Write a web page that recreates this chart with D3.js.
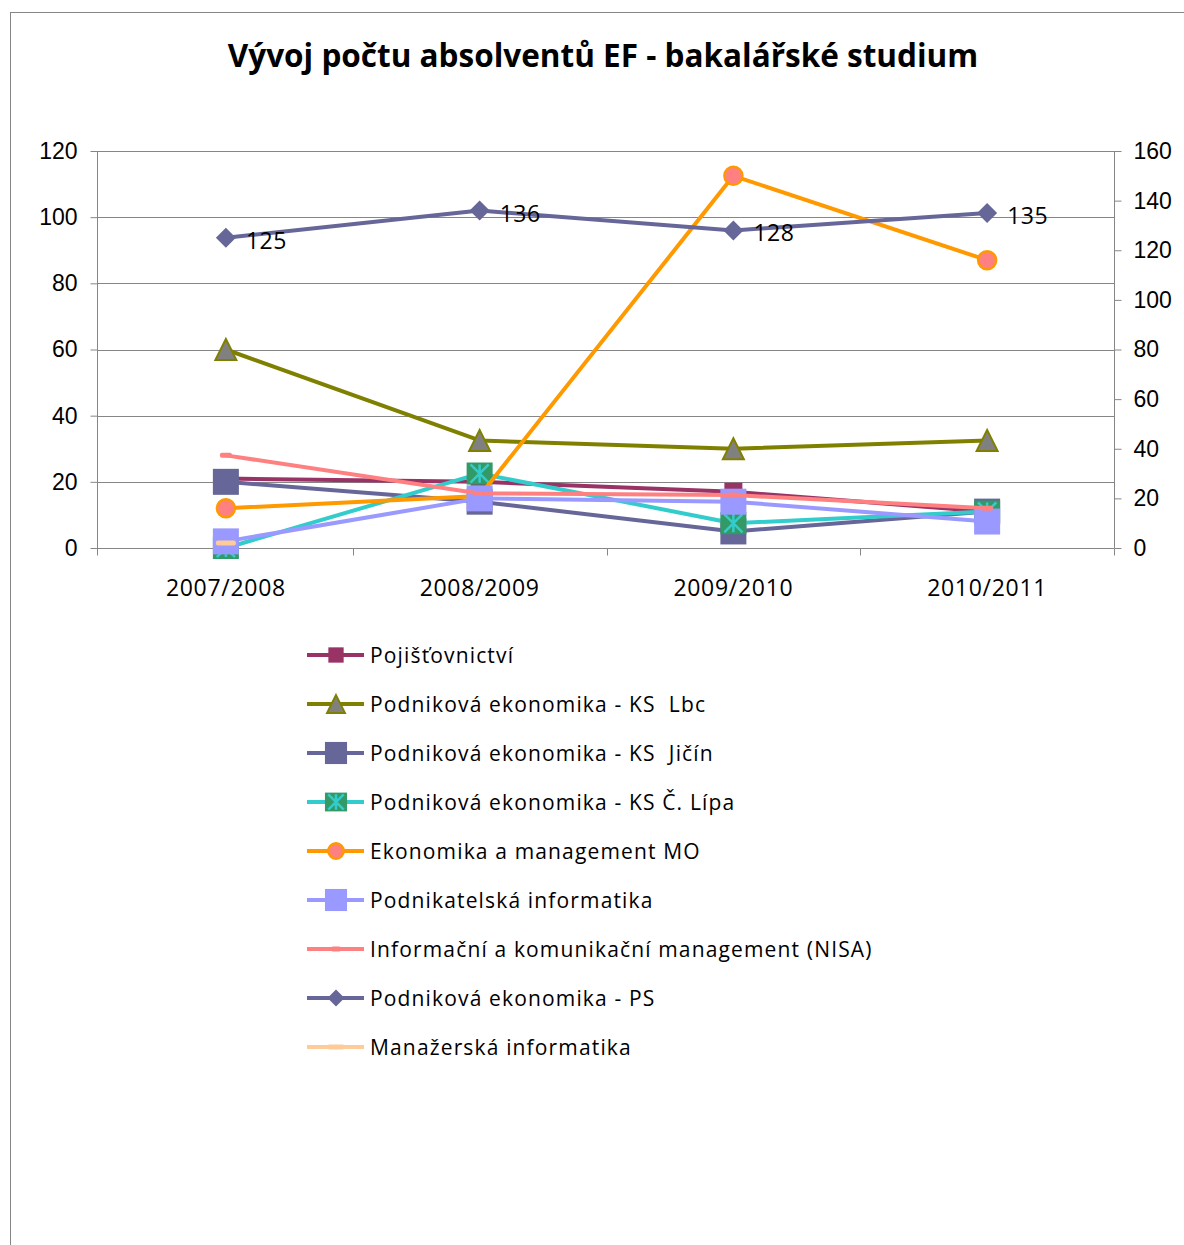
<!DOCTYPE html>
<html>
<head>
<meta charset="utf-8">
<title>Vývoj počtu absolventů EF</title>
<script src="https://d3js.org/d3.v7.min.js"></script>
<style>
  body { margin: 0; background: #fff; }
  svg { font-family: 'Open Sans', sans-serif; }
  .axis text { font-size: 23px; fill: #000; }
  .axis path, .axis line { stroke: #868686; }
  .legend-text { white-space: pre; }
</style>
</head>
<body>
<div id="chart"></div>
<script>
// ---- data ----
var years = ["2007/2008", "2008/2009", "2009/2010", "2010/2011"];
var leftTicks = [0, 20, 40, 60, 80, 100, 120];
var rightTicks = [0, 20, 40, 60, 80, 100, 120, 140, 160];

var pojistovnictvi = [21, 20, 17, 11];
var ksLbc = [60, 32.5, 30, 32.5];
var ksJicin = [20, 14, 5, 11];
var ksCLipa = [0, 22.5, 7.5, 11];
var ekonomikaMO = [16, 21, 150, 116];     // right axis
var podnInformatika = [2, 15, 14, 8];
var nisa = [28, 16.5, 16, 12];
var ekonomikaPS = [125, 136, 128, 135];   // right axis, labelled
var manazInformatika = [1.5, null, null, null];

var seriesNames = [
  "Pojišťovnictví",
  "Podniková ekonomika - KS  Lbc",
  "Podniková ekonomika - KS  Jičín",
  "Podniková ekonomika - KS Č. Lípa",
  "Ekonomika a management MO",
  "Podnikatelská informatika",
  "Informační a komunikační management (NISA)",
  "Podniková ekonomika - PS",
  "Manažerská informatika"
];

var series = [
  {name: seriesNames[0], values: pojistovnictvi, axis: "L", color: "#993366", marker: "square", size: 18, fill: "#993366", stroke: "none"},
  {name: seriesNames[1], values: ksLbc, axis: "L", color: "#808000", marker: "triangle", size: 21, fill: "#808080", stroke: "#808000"},
  {name: seriesNames[2], values: ksJicin, axis: "L", color: "#666699", marker: "square", size: 26, fill: "#666699", stroke: "none"},
  {name: seriesNames[3], values: ksCLipa, axis: "L", color: "#33CCCC", marker: "star", size: 26, fill: "#339966", stroke: "#33CCCC"},
  {name: seriesNames[4], values: ekonomikaMO, axis: "R", color: "#FF9900", marker: "circle", size: 18, fill: "#FF8080", stroke: "#FF9900"},
  {name: seriesNames[5], values: podnInformatika, axis: "L", color: "#9999FF", marker: "square", size: 26, fill: "#9999FF", stroke: "none"},
  {name: seriesNames[6], values: nisa, axis: "L", color: "#FF8080", marker: "dash", size: 12, fill: "#FF8080", stroke: "none"},
  {name: seriesNames[7], values: ekonomikaPS, axis: "R", color: "#666699", marker: "diamond", size: 20, fill: "#666699", stroke: "none", labels: true},
  {name: seriesNames[8], values: manazInformatika, axis: "L", color: "#FFCC99", marker: "dash", size: 20, fill: "#FFCC99", stroke: "none"}
];

// ---- layout ----
var width = 1184, height = 1245;
var plot = {left: 97, right: 1114, top: 151, bottom: 548};

var svg = d3.select("#chart").append("svg")
    .attr("width", width).attr("height", height);

// chart border
svg.append("rect")
    .attr("x", 10.5).attr("y", 12.5)
    .attr("width", 1250).attr("height", 1300)
    .attr("fill", "none").attr("stroke", "#868686");

svg.append("text")
    .attr("x", 603).attr("y", 67)
    .attr("text-anchor", "middle")
    .style("font-size", "31.5px")
    .style("font-weight", 700)
    .text("Vývoj počtu absolventů EF - bakalářské studium");

var x = d3.scaleBand().domain(years).range([plot.left + 2, plot.right]);
var yL = d3.scaleLinear().domain([0, 120]).range([plot.bottom, plot.top]);
var yR = d3.scaleLinear().domain([0, 160]).range([plot.bottom, plot.top]);
var cx = d => x(d) + x.bandwidth() / 2;

// gridlines
svg.append("g").selectAll("line")
    .data(leftTicks.slice(1))
    .enter().append("line")
    .attr("x1", plot.left).attr("x2", plot.right)
    .attr("y1", d => Math.round(yL(d)) + 0.5).attr("y2", d => Math.round(yL(d)) + 0.5)
    .attr("stroke", "#868686");

// left axis
svg.append("g").attr("class", "axis")
    .attr("transform", `translate(${plot.left + 0.5},0)`)
    .call(d3.axisLeft(yL).tickValues(leftTicks).tickSizeInner(7).tickSizeOuter(0).tickPadding(13))
    .call(g => g.select(".domain").attr("d", `M0,${plot.top}V${plot.bottom}`));

// right axis
svg.append("g").attr("class", "axis")
    .attr("transform", `translate(${plot.right + 0.5},0)`)
    .call(d3.axisRight(yR).tickValues(rightTicks).tickSizeInner(7).tickSizeOuter(0).tickPadding(12))
    .call(g => g.select(".domain").attr("d", `M0,${plot.top}V${plot.bottom}`));

// x axis
var xAxis = svg.append("g").attr("class", "axis")
    .attr("transform", `translate(0,${plot.bottom + 0.5})`);
xAxis.append("line")
    .attr("x1", plot.left).attr("x2", plot.right)
    .attr("stroke", "#868686");
xAxis.selectAll("line.tick")
    .data(years.slice(1).map(d => x(d)).concat([plot.left, plot.right]))
    .enter().append("line").attr("class", "tick")
    .attr("x1", d => Math.round(d) + 0.5).attr("x2", d => Math.round(d) + 0.5)
    .attr("y1", 0).attr("y2", 7)
    .attr("stroke", "#868686");
xAxis.selectAll("text")
    .data(years)
    .enter().append("text")
    .attr("x", d => cx(d)).attr("y", 47)
    .attr("text-anchor", "middle")
    .style("letter-spacing", "0.7px")
    .text(d => d);

// markers
function drawMarker(g, s, scale) {
  var r = s.size * scale / 2;
  if (s.marker === "square") {
    g.append("rect").attr("x", -r).attr("y", -r).attr("width", 2 * r).attr("height", 2 * r)
      .attr("fill", s.fill);
  } else if (s.marker === "triangle") {
    g.append("path").attr("d", `M0,${-r}L${r},${r}L${-r},${r}Z`)
      .attr("fill", s.fill).attr("stroke", s.stroke).attr("stroke-width", 2);
  } else if (s.marker === "diamond") {
    g.append("path").attr("d", `M0,${-r}L${r},0L0,${r}L${-r},0Z`)
      .attr("fill", s.fill);
  } else if (s.marker === "circle") {
    g.append("circle").attr("r", r).attr("fill", s.fill)
      .attr("stroke", s.stroke).attr("stroke-width", 2.5);
  } else if (s.marker === "star") {
    g.append("rect").attr("x", -r).attr("y", -r * 0.85).attr("width", 2 * r).attr("height", 1.7 * r)
      .attr("fill", s.fill);
    var a = r * 0.7;
    g.append("path")
      .attr("d", `M0,${-a}V${a}M${-a},${-a}L${a},${a}M${a},${-a}L${-a},${a}`)
      .attr("stroke", s.stroke).attr("stroke-width", 2.5);
  } else if (s.marker === "dash") {
    g.append("rect").attr("x", -r).attr("y", -2.5).attr("width", 2 * r).attr("height", 5)
      .attr("rx", 2).attr("fill", s.fill);
  }
}

var line = d3.line().defined(d => d.v != null).x(d => cx(d.year)).y(d => d.y);

series.forEach(function(s) {
  var yScale = s.axis === "R" ? yR : yL;
  var pts = s.values.map((v, i) => ({year: years[i], v: v, y: v == null ? 0 : yScale(v)}));
  var g = svg.append("g").attr("class", "series");
  g.append("path")
    .datum(pts)
    .attr("fill", "none")
    .attr("stroke", s.color)
    .attr("stroke-width", 4)
    .attr("stroke-linejoin", "round")
    .attr("d", line);
  pts.filter(d => d.v != null).forEach(function(d) {
    var m = g.append("g").attr("transform", `translate(${cx(d.year)},${d.y})`);
    drawMarker(m, s, 1);
  });
  if (s.labels) {
    g.selectAll("text")
      .data(pts)
      .enter().append("text")
      .attr("x", d => cx(d.year) + 20)
      .attr("y", d => d.y + 11)
      .style("font-size", "23px")
      .style("letter-spacing", "0.5px")
      .text(d => d.v);
  }
});

// legend
var legend = svg.append("g").attr("transform", "translate(307,655)");
series.forEach(function(s, i) {
  var row = legend.append("g").attr("transform", `translate(0,${i * 49})`);
  row.append("line")
    .attr("x1", 0).attr("x2", 57)
    .attr("stroke", s.color).attr("stroke-width", 4);
  var m = row.append("g").attr("transform", "translate(29,0)");
  drawMarker(m, s, 0.85);
  row.append("text")
    .attr("class", "legend-text")
    .attr("x", 63).attr("y", 8)
    .style("font-size", "21px")
    .style("letter-spacing", "1.15px")
    .text(s.name);
});
</script>
</body>
</html>
